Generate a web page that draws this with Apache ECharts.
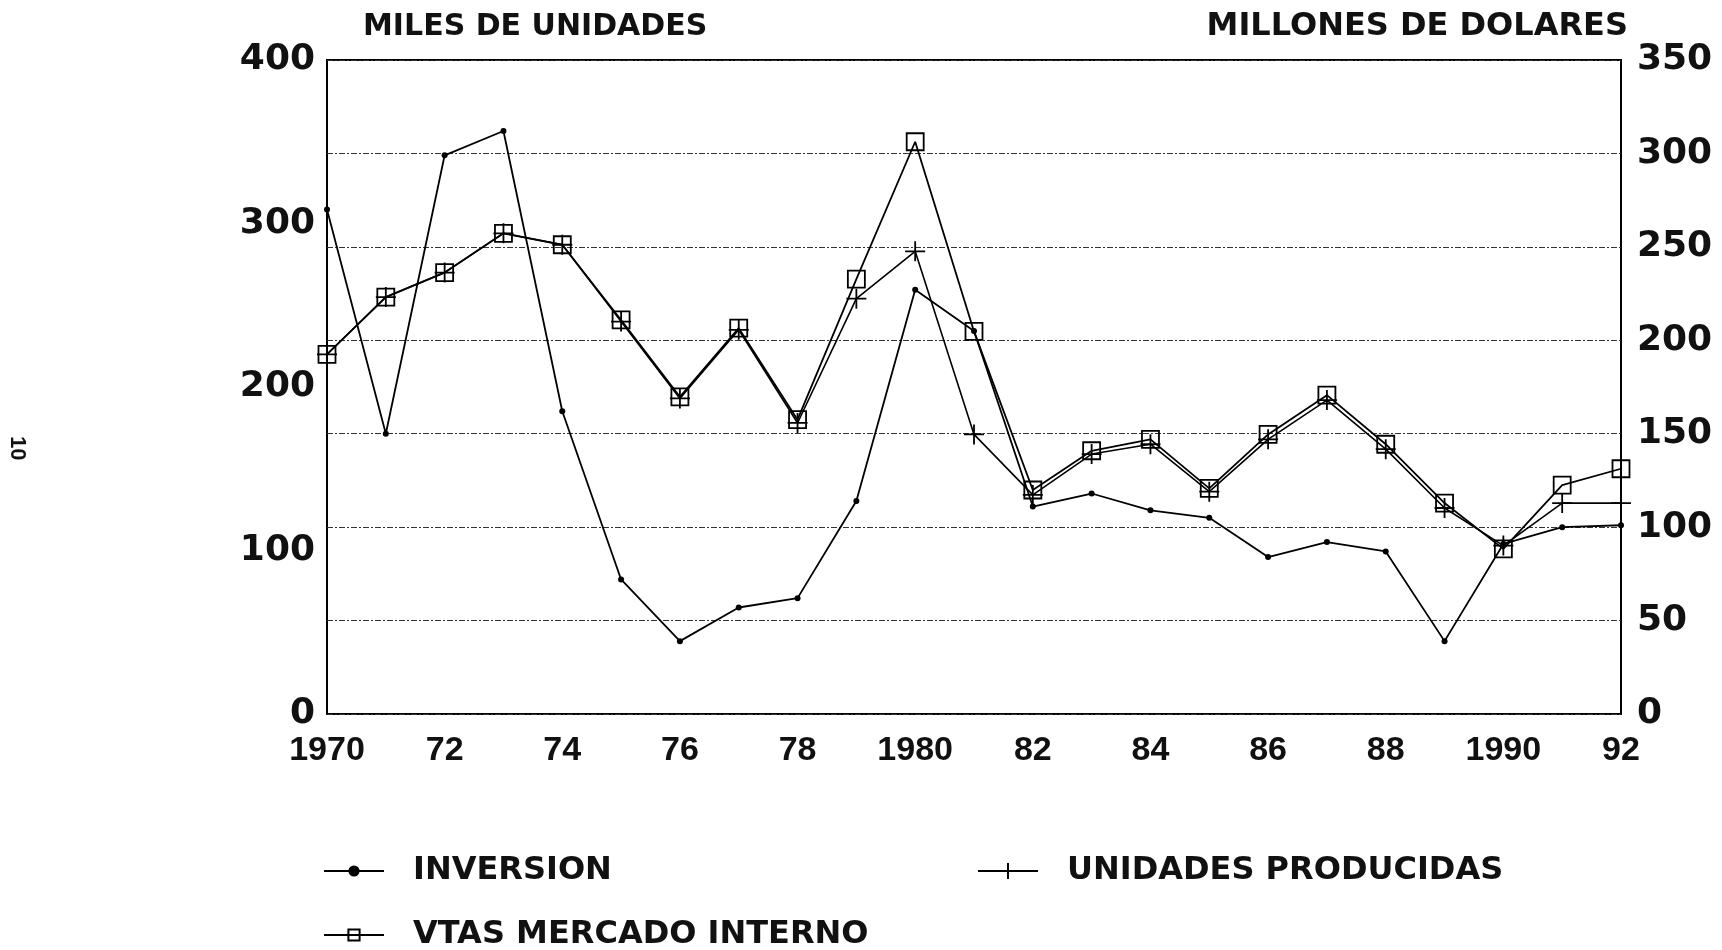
<!DOCTYPE html>
<html><head><meta charset="utf-8">
<script src="https://cdn.jsdelivr.net/npm/echarts@6/dist/echarts.min.js"></script>
<style>html,body{margin:0;padding:0;background:#fff}#c{width:1722px;height:950px}</style>
</head><body><div id="c"></div>
<script>
const years = [1970,1971,1972,1973,1974,1975,1976,1977,1978,1979,1980,1981,1982,1983,1984,1985,1986,1987,1988,1989,1990,1991,1992];
// millones de dolares (eje derecho)
const inversion = [270,150,299,312,162,72,39,57,62,114,227,205,111,118,109,105,84,92,87,39,91,100,101];
// miles de unidades (eje izquierdo)
const unidades = [220,255,270,294,287,240,193,235,178,254,283,171,134,159,165,136,168,192,162,126,103,129,129];
const vtas = [220,255,270,294,287,241,194,236,180,266,350,234,137,161,168,138,171,195,165,129,101,140,150];
const xTickLabels = {1970:'1970',1972:'72',1974:'74',1976:'76',1978:'78',1980:'1980',1982:'82',1984:'84',1986:'86',1988:'88',1990:'1990',1992:'92'};
const leftTitle = 'MILES DE UNIDADES';
const rightTitle = 'MILLONES DE DOLARES';
const names = ['INVERSION','UNIDADES PRODUCIDAS','VTAS MERCADO INTERNO'];

const WIDE = '"DejaVu Sans",Verdana,sans-serif';
const NUMFONT = '"Liberation Sans",Arial,sans-serif';
const pair = arr => years.map((y,i)=>[y,arr[i]]);
const crossPath = 'path://M10,0 L10,20 M0,10 L20,10';

const chart = echarts.init(document.getElementById('c'), null, {renderer:'canvas'});
const legendText = {fontFamily:WIDE, fontWeight:'bold', fontSize:32, color:'#111', padding:[0,0,0,24]};
chart.setOption({
  backgroundColor:'#fff',
  animation:false,
  title:[
    {text:leftTitle, left:358, top:7, textStyle:{fontFamily:WIDE, fontWeight:'bold', fontSize:30, color:'#111'}},
    {text:rightTitle, right:89, top:6, textStyle:{fontFamily:WIDE, fontWeight:'bold', fontSize:32, color:'#111'}}
  ],
  grid:{left:327, right:101, top:60, bottom:236, show:true, borderColor:'#000', borderWidth:2, backgroundColor:'transparent'},
  legend:[
    {data:[names[0]], left:318, top:850, itemWidth:60, itemHeight:14, textStyle:legendText, selectedMode:false},
    {data:[names[1]], left:972, top:850, itemWidth:60, itemHeight:20, textStyle:legendText, selectedMode:false},
    {data:[names[2]], left:318, top:914, itemWidth:60, itemHeight:14, textStyle:legendText, selectedMode:false}
  ],
  xAxis:{type:'value', min:1970, max:1992, interval:2,
    axisLine:{show:false}, axisTick:{show:false}, splitLine:{show:false},
    axisLabel:{margin:20, fontFamily:NUMFONT, fontWeight:'bold', fontSize:34, color:'#111',
      formatter:v=>xTickLabels[v]||''}},
  yAxis:[
    {type:'value', min:0, max:400, interval:100, position:'left',
      axisLine:{show:false}, axisTick:{show:false}, splitLine:{show:false},
      axisLabel:{margin:12, fontFamily:WIDE, fontWeight:'bold', fontSize:36, color:'#111'}},
    {type:'value', min:0, max:350, interval:50, position:'right',
      axisLine:{show:false}, axisTick:{show:false},
      splitLine:{show:true, lineStyle:{color:'#333', width:1, type:[6,2,2,2]}},
      axisLabel:{margin:16, fontFamily:WIDE, fontWeight:'bold', fontSize:36, color:'#111'}}
  ],
  series:[
    {name:names[0], type:'line', yAxisIndex:1, data:pair(inversion), symbol:'circle', symbolSize:6,
      lineStyle:{color:'#000', width:1.8}, itemStyle:{color:'#000'}, z:3},
    {name:names[1], type:'line', yAxisIndex:0, data:pair(unidades), symbol:crossPath, symbolSize:20,
      lineStyle:{color:'#000', width:1.6}, itemStyle:{color:'rgba(0,0,0,0)', borderColor:'#000', borderWidth:1.8}, z:4},
    {name:names[2], type:'line', yAxisIndex:0, data:pair(vtas), symbol:'rect', symbolSize:17,
      lineStyle:{color:'#000', width:1.8}, itemStyle:{color:'rgba(0,0,0,0)', borderColor:'#000', borderWidth:1.8}, z:5}
  ],
  graphic:[
    {type:'text', left:6, top:436, rotation:-Math.PI/2, style:{text:'10', font:'bold 22px '+NUMFONT, fill:'#111'}}
  ]
});
</script></body></html>
